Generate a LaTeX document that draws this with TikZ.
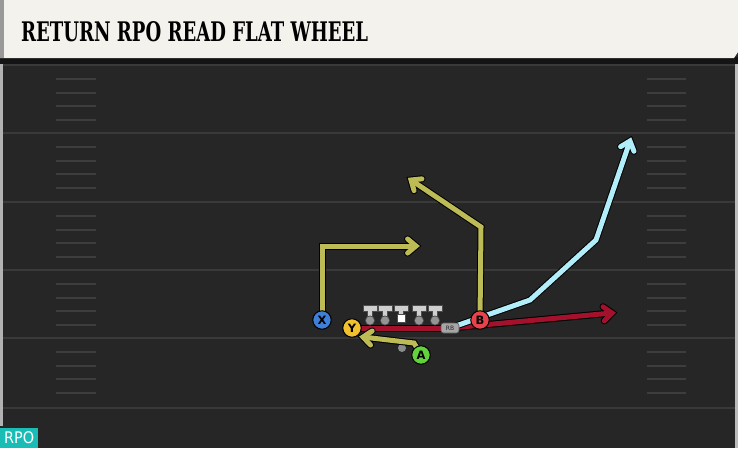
\documentclass[tikz,border=0pt]{standalone}
\usepackage{fontspec}
\usepackage{graphicx}
\setmainfont{DejaVu Sans}
\newfontfamily\titlefont{DejaVu Serif}
\newfontfamily\rpofont{DejaVu Sans Condensed}
\usetikzlibrary{calc}
\definecolor{fieldbg}{HTML}{262626}
\definecolor{yardc}{HTML}{393939}
\definecolor{hashc}{HTML}{3d3d3d}
\definecolor{titlebg}{HTML}{F4F2EC}
\definecolor{olive}{HTML}{BDBB55}
\definecolor{skyc}{HTML}{B2EEFA}
\definecolor{redc}{HTML}{A3112C}
\definecolor{xblue}{HTML}{3F7FD8}
\definecolor{yyel}{HTML}{F2C12E}
\definecolor{agreen}{HTML}{62D23C}
\definecolor{bred}{HTML}{E8434A}
\definecolor{tealc}{HTML}{19BDB6}
\definecolor{linec}{HTML}{CFCFCF}
\tikzset{
  player/.style={circle, draw=black, line width=1pt, minimum size=18.5pt, inner sep=0pt,
    font=\fontsize{11.5}{11.5}\selectfont\bfseries, text=black},
  rbtag/.style={rounded corners=2.5pt, fill=black!35, draw=black!65, line width=0.6pt,
    minimum width=18pt, minimum height=10pt, inner sep=0pt, font=\fontsize{6}{6}\selectfont, text=black!85},
  qbdot/.style={circle, fill=black!45, minimum size=8pt, inner sep=0pt},
  routeout/.style={black, line width=7pt, line join=miter, line cap=butt},
  routein/.style={line width=5pt, line join=miter, line cap=butt},
  yard/.style={yardc, line width=2.4pt},
  hash/.style={hashc, line width=2pt},
}
\newcommand\routepath[2]{%
  \draw[routeout] #2;
  \draw[routein,#1] #2;}
% #1 colour, #2 path, #3 last corner, #4 tip
\newcommand\routearrow[4]{%
  \draw[routeout] #2;
  \draw[routeout, line cap=round, line join=miter]
    ($(#4)!11pt!40:(#3)$) -- (#4) -- ($(#4)!11pt!-40:(#3)$);
  \draw[routein,#1] #2;
  \draw[routein,#1, line cap=round, line join=miter]
    ($(#4)!11pt!40:(#3)$) -- (#4) -- ($(#4)!11pt!-40:(#3)$);}
\newcommand\tman[1]{%
  \fill[black!70] (#1-7.5,305) rectangle (#1+7.5,311.5);
  \fill[black!70] (#1-2.9,309) rectangle (#1+2.9,318);
  \fill[linec] (#1-6.5,306) rectangle (#1+6.5,310.5);
  \fill[linec] (#1-1.9,309) rectangle (#1+1.9,318);}
\begin{document}
\begin{tikzpicture}[x=1pt,y=-1pt]
\useasboundingbox (0,0) rectangle (738,448);
% background
\fill[fieldbg] (0,0) rectangle (738,448);
\fill[black!92] (0,57) rectangle (738,64);
\fill[titlebg] (0,0) -- (738,0) -- (738,52) -- (734,58) -- (0,58) -- cycle;
\fill[black!40] (0,0) rectangle (4,58);
\fill[black!30] (0,64) rectangle (3,448);
\fill[black!27] (735,64) rectangle (738,448);
\node[anchor=south west, inner sep=0pt] (title) at (21,42)
  {\resizebox{347pt}{20pt}{\titlefont\bfseries RETURN RPO READ FLAT WHEEL}};
% yard lines
\foreach \yy in {65,133,202,270,338,408} {\draw[yard] (3,\yy) -- (735,\yy);}
% hash marks
\foreach \yy in {65,133,202,270,338} {
  \foreach \k in {14,27.5,41,55} {
    \draw[hash] (56,\yy+\k) -- (96,\yy+\k);
    \draw[hash] (647,\yy+\k) -- (686,\yy+\k);}}
% RPO tag
\fill[black!85] (0,426) rectangle (40,448);
\node[fill=tealc, minimum width=38pt, minimum height=20pt, inner sep=0pt, anchor=south west,
  font=\rpofont\fontsize{16}{16}\selectfont, text=white] (rpo) at (0,448) {RPO};
% player positions
\coordinate (Xp) at (322,320);
\coordinate (Yp) at (352,328);
\coordinate (Ap) at (421,355);
\coordinate (Bp) at (480,320);
\coordinate (RBp) at (450,328);
% route coordinates
\coordinate (xc) at (322,246);
\coordinate (xe) at (416,246);
\coordinate (bc) at (481,227);
\coordinate (be) at (411,180);
\coordinate (ac) at (414,343);
\coordinate (ae) at (363,337);
\coordinate (re) at (612,313);
\coordinate (s1) at (530,300);
\coordinate (s2) at (596,240);
\coordinate (se) at (630,141);
% QB dot
\node[qbdot] (qb) at (402,348) {};
% routes
\routepath{redc}{(Yp) -- (RBp)}
\routearrow{redc}{(RBp) -- (re)}{RBp}{re}
\routearrow{skyc}{(RBp) -- (s1) -- (s2) -- (se)}{s2}{se}
\routearrow{olive}{(Xp) -- (xc) -- (xe)}{xc}{xe}
\routearrow{olive}{(Bp) -- (bc) -- (be)}{bc}{be}
\routearrow{olive}{(Ap) -- (ac) -- (ae)}{ac}{ae}
% offensive line
\foreach \xx in {370,385,419,435} {
  \tman{\xx}
  \fill[black!70] (\xx,320.5) circle (5pt);
  \fill[black!42] (\xx,320.5) circle (4.1pt);}
\tman{401}
\node[fill=white, draw=black!70, line width=0.7pt, minimum size=8pt, inner sep=0pt] (ctr) at (401,318) {};
% players
\node[rbtag] (RB) at (RBp) {RB};
\node[player, fill=xblue] (X) at (Xp) {X};
\node[player, fill=yyel] (Y) at (Yp) {Y};
\node[player, fill=agreen] (A) at (Ap) {A};
\node[player, fill=bred] (B) at (Bp) {B};
\end{tikzpicture}
\end{document}
